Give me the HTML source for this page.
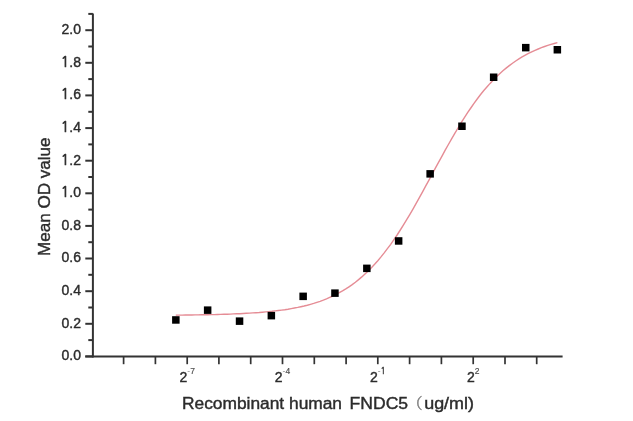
<!DOCTYPE html>
<html><head><meta charset="utf-8"><style>
html,body{margin:0;padding:0;background:#fff;}
body{width:633px;height:421px;overflow:hidden;}
svg{display:block;}
text{font-family:"Liberation Sans",Arial,sans-serif;fill:#2c2c2c;stroke:#2c2c2c;stroke-width:0.4px;}
</style></head><body>
<svg style="filter:blur(0.35px)" width="633" height="421" viewBox="0 0 633 421">
<rect width="633" height="421" fill="#fff"/>
<g stroke="#333" stroke-width="2" fill="none">
<line x1="92.9" y1="13.5" x2="92.9" y2="357.4"/>
<line x1="85.3" y1="356.4" x2="562.6" y2="356.4"/>
<line x1="85.3" y1="356.4" x2="92.9" y2="356.4"/>
<line x1="88.3" y1="340.1" x2="92.9" y2="340.1"/>
<line x1="85.3" y1="323.8" x2="92.9" y2="323.8"/>
<line x1="88.3" y1="307.5" x2="92.9" y2="307.5"/>
<line x1="85.3" y1="291.2" x2="92.9" y2="291.2"/>
<line x1="88.3" y1="274.8" x2="92.9" y2="274.8"/>
<line x1="85.3" y1="258.5" x2="92.9" y2="258.5"/>
<line x1="88.3" y1="242.2" x2="92.9" y2="242.2"/>
<line x1="85.3" y1="225.9" x2="92.9" y2="225.9"/>
<line x1="88.3" y1="209.6" x2="92.9" y2="209.6"/>
<line x1="85.3" y1="193.3" x2="92.9" y2="193.3"/>
<line x1="88.3" y1="177.0" x2="92.9" y2="177.0"/>
<line x1="85.3" y1="160.7" x2="92.9" y2="160.7"/>
<line x1="88.3" y1="144.4" x2="92.9" y2="144.4"/>
<line x1="85.3" y1="128.1" x2="92.9" y2="128.1"/>
<line x1="88.3" y1="111.8" x2="92.9" y2="111.8"/>
<line x1="85.3" y1="95.4" x2="92.9" y2="95.4"/>
<line x1="88.3" y1="79.1" x2="92.9" y2="79.1"/>
<line x1="85.3" y1="62.8" x2="92.9" y2="62.8"/>
<line x1="88.3" y1="46.5" x2="92.9" y2="46.5"/>
<line x1="85.3" y1="30.2" x2="92.9" y2="30.2"/>
<line x1="88.3" y1="13.9" x2="92.9" y2="13.9"/>
<line x1="123.6" y1="356.4" x2="123.6" y2="364.2" stroke-width="1.7"/>
<line x1="155.4" y1="356.4" x2="155.4" y2="364.2" stroke-width="1.7"/>
<line x1="187.2" y1="356.4" x2="187.2" y2="364.2" stroke-width="1.7"/>
<line x1="218.9" y1="356.4" x2="218.9" y2="364.2" stroke-width="1.7"/>
<line x1="250.7" y1="356.4" x2="250.7" y2="364.2" stroke-width="1.7"/>
<line x1="282.5" y1="356.4" x2="282.5" y2="364.2" stroke-width="1.7"/>
<line x1="314.3" y1="356.4" x2="314.3" y2="364.2" stroke-width="1.7"/>
<line x1="346.1" y1="356.4" x2="346.1" y2="364.2" stroke-width="1.7"/>
<line x1="377.8" y1="356.4" x2="377.8" y2="364.2" stroke-width="1.7"/>
<line x1="409.6" y1="356.4" x2="409.6" y2="364.2" stroke-width="1.7"/>
<line x1="441.4" y1="356.4" x2="441.4" y2="364.2" stroke-width="1.7"/>
<line x1="473.2" y1="356.4" x2="473.2" y2="364.2" stroke-width="1.7"/>
<line x1="505.0" y1="356.4" x2="505.0" y2="364.2" stroke-width="1.7"/>
<line x1="536.7" y1="356.4" x2="536.7" y2="364.2" stroke-width="1.7"/>
</g>
<polyline points="175.8,315.1 179.0,315.1 182.2,315.1 185.4,315.0 188.6,315.0 191.8,315.0 195.0,314.9 198.2,314.9 201.5,314.8 204.7,314.8 207.9,314.7 211.1,314.6 214.3,314.6 217.5,314.5 220.7,314.4 223.9,314.3 227.1,314.2 230.3,314.1 233.5,313.9 236.7,313.8 239.9,313.7 243.1,313.5 246.3,313.3 249.6,313.1 252.8,312.9 256.0,312.7 259.2,312.5 262.4,312.2 265.6,311.9 268.8,311.6 272.0,311.3 275.2,310.9 278.4,310.5 281.6,310.1 284.8,309.7 288.0,309.2 291.2,308.6 294.4,308.0 297.7,307.4 300.9,306.7 304.1,306.0 307.3,305.2 310.5,304.3 313.7,303.4 316.9,302.3 320.1,301.3 323.3,300.1 326.5,298.8 329.7,297.4 332.9,296.0 336.1,294.4 339.3,292.7 342.5,290.9 345.8,288.9 349.0,286.8 352.2,284.6 355.4,282.2 358.6,279.6 361.8,276.9 365.0,274.0 368.2,271.0 371.4,267.7 374.6,264.3 377.8,260.7 381.0,256.9 384.2,252.9 387.4,248.7 390.7,244.3 393.9,239.7 397.1,235.0 400.3,230.0 403.5,224.9 406.7,219.7 409.9,214.3 413.1,208.8 416.3,203.1 419.5,197.4 422.7,191.6 425.9,185.7 429.1,179.8 432.3,173.8 435.5,167.9 438.8,161.9 442.0,156.1 445.2,150.2 448.4,144.5 451.6,138.9 454.8,133.4 458.0,128.0 461.2,122.7 464.4,117.6 467.6,112.7 470.8,108.0 474.0,103.4 477.2,99.0 480.4,94.8 483.6,90.8 486.9,87.0 490.1,83.4 493.3,80.0 496.5,76.8 499.7,73.7 502.9,70.8 506.1,68.1 509.3,65.6 512.5,63.2 515.7,61.0 518.9,58.9 522.1,56.9 525.3,55.1 528.5,53.4 531.7,51.8 535.0,50.3 538.2,49.0 541.4,47.7 544.6,46.5 547.8,45.4 551.0,44.4 554.2,43.5 557.4,42.6" fill="none" stroke="#e58c95" stroke-width="1.4"/>
<g fill="#000">
<rect x="172.1" y="316.2" width="7.5" height="7.5"/>
<rect x="203.9" y="306.4" width="7.5" height="7.5"/>
<rect x="235.8" y="317.4" width="7.5" height="7.5"/>
<rect x="267.6" y="311.9" width="7.5" height="7.5"/>
<rect x="299.4" y="292.6" width="7.5" height="7.5"/>
<rect x="331.2" y="289.4" width="7.5" height="7.5"/>
<rect x="363.1" y="264.6" width="7.5" height="7.5"/>
<rect x="394.9" y="237.2" width="7.5" height="7.5"/>
<rect x="426.4" y="170.1" width="7.5" height="7.5"/>
<rect x="458.2" y="122.5" width="7.5" height="7.5"/>
<rect x="489.9" y="73.5" width="7.5" height="7.5"/>
<rect x="522.0" y="43.9" width="7.5" height="7.5"/>
<rect x="553.6" y="46.0" width="7.5" height="7.5"/>
</g>
<g font-size="14" text-anchor="end">
<text x="81" y="360.2">0.0</text>
<text x="81" y="327.6">0.2</text>
<text x="81" y="295.0">0.4</text>
<text x="81" y="262.3">0.6</text>
<text x="81" y="229.7">0.8</text>
<text x="81" y="197.1"><tspan style="font-family:'NanumGothic',sans-serif;stroke-width:0.7px">1</tspan>.0</text>
<text x="81" y="164.5"><tspan style="font-family:'NanumGothic',sans-serif;stroke-width:0.7px">1</tspan>.2</text>
<text x="81" y="131.9"><tspan style="font-family:'NanumGothic',sans-serif;stroke-width:0.7px">1</tspan>.4</text>
<text x="81" y="99.2"><tspan style="font-family:'NanumGothic',sans-serif;stroke-width:0.7px">1</tspan>.6</text>
<text x="81" y="66.6"><tspan style="font-family:'NanumGothic',sans-serif;stroke-width:0.7px">1</tspan>.8</text>
<text x="81" y="34.0">2.0</text>
</g>
<g font-size="14">
<text x="187.2" y="382" text-anchor="middle">2<tspan font-size="8.5" dy="-8.3" style="fill:#4a4a4a;stroke:#4a4a4a;stroke-width:0.15px"><tspan style="fill:#909090;stroke:none">-</tspan>7</tspan></text>
<text x="282.5" y="382" text-anchor="middle">2<tspan font-size="8.5" dy="-8.3" style="fill:#4a4a4a;stroke:#4a4a4a;stroke-width:0.15px"><tspan style="fill:#909090;stroke:none">-</tspan>4</tspan></text>
<text x="377.8" y="382" text-anchor="middle">2<tspan font-size="8.5" dy="-8.3" style="fill:#4a4a4a;stroke:#4a4a4a;stroke-width:0.15px"><tspan style="fill:#909090;stroke:none">-</tspan><tspan style="font-family:'NanumGothic',sans-serif;stroke-width:0.5px">1</tspan></tspan></text>
<text x="473.2" y="382" text-anchor="middle">2<tspan font-size="8.5" dy="-8.3" style="fill:#4a4a4a;stroke:#4a4a4a;stroke-width:0.15px">2</tspan></text>
</g>
<g font-size="16">
<text x="182" y="409" textLength="160" lengthAdjust="spacingAndGlyphs">Recombinant human</text>
<text x="349.6" y="409" textLength="58.5" lengthAdjust="spacingAndGlyphs">FNDC5</text>
<text x="407.5" y="409.3" font-size="15" style="font-family:'Noto Serif CJK SC',serif;fill:#6a6a6a;stroke:#8a8a8a;stroke-width:0.4px">（</text>
<text x="424.2" y="409" textLength="49.8" lengthAdjust="spacingAndGlyphs">ug/ml)</text>
</g>
<text transform="translate(49.5,256) rotate(-90)" font-size="16" textLength="118.5" lengthAdjust="spacingAndGlyphs">Mean OD value</text>
</svg>
</body></html>
